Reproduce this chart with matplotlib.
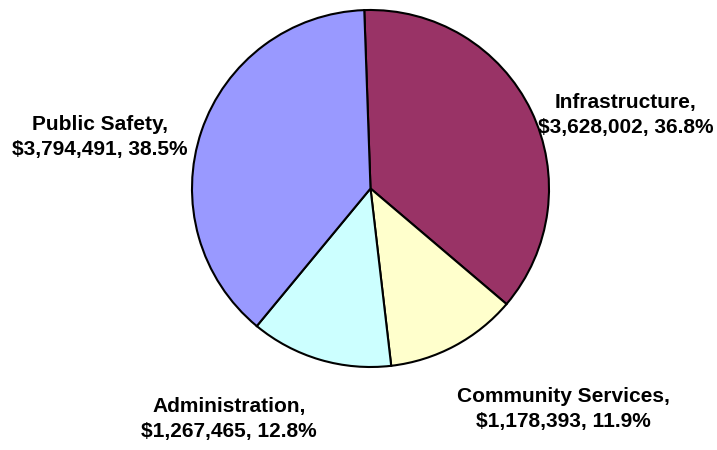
import matplotlib.pyplot as plt

# data (order: clockwise from top)
categories = ["Infrastructure", "Community Services", "Administration", "Public Safety"]
amounts = [3628002, 1178393, 1267465, 3794491]
colors = ["#993366", "#FFFFCC", "#CCFFFF", "#9999FF"]

total = sum(amounts)

fig = plt.figure(figsize=(7.17, 4.5), dpi=100)
ax = fig.add_axes([0, 0, 1, 1])

# pie in pixel coords (y from bottom)
cx, cy, r = 370.5, 450 - 188.5, 178.5
ax.pie(amounts, colors=colors, startangle=92, counterclock=False,
       center=(cx, cy), radius=r,
       wedgeprops=dict(edgecolor="black", linewidth=1.5))
ax.set_xlim(0, 717)
ax.set_ylim(0, 450)
ax.set_aspect("equal")
ax.axis("off")

# label positions (pixel coords)
label_pos = {
    "Infrastructure": (626, 450 - 115),
    "Community Services": (563, 450 - 409),
    "Administration": (229, 450 - 419),
    "Public Safety": (100, 450 - 137),
}
for name, val in zip(categories, amounts):
    pct = val / total * 100
    txt = f"{name},\n${val:,}, {pct:.1f}%"
    x, y = label_pos[name]
    ax.text(x, y, txt, ha="center", va="center", fontsize=15,
            fontweight="bold", family="Liberation Sans", linespacing=1.35)

fig.savefig("out.png", dpi=100)
